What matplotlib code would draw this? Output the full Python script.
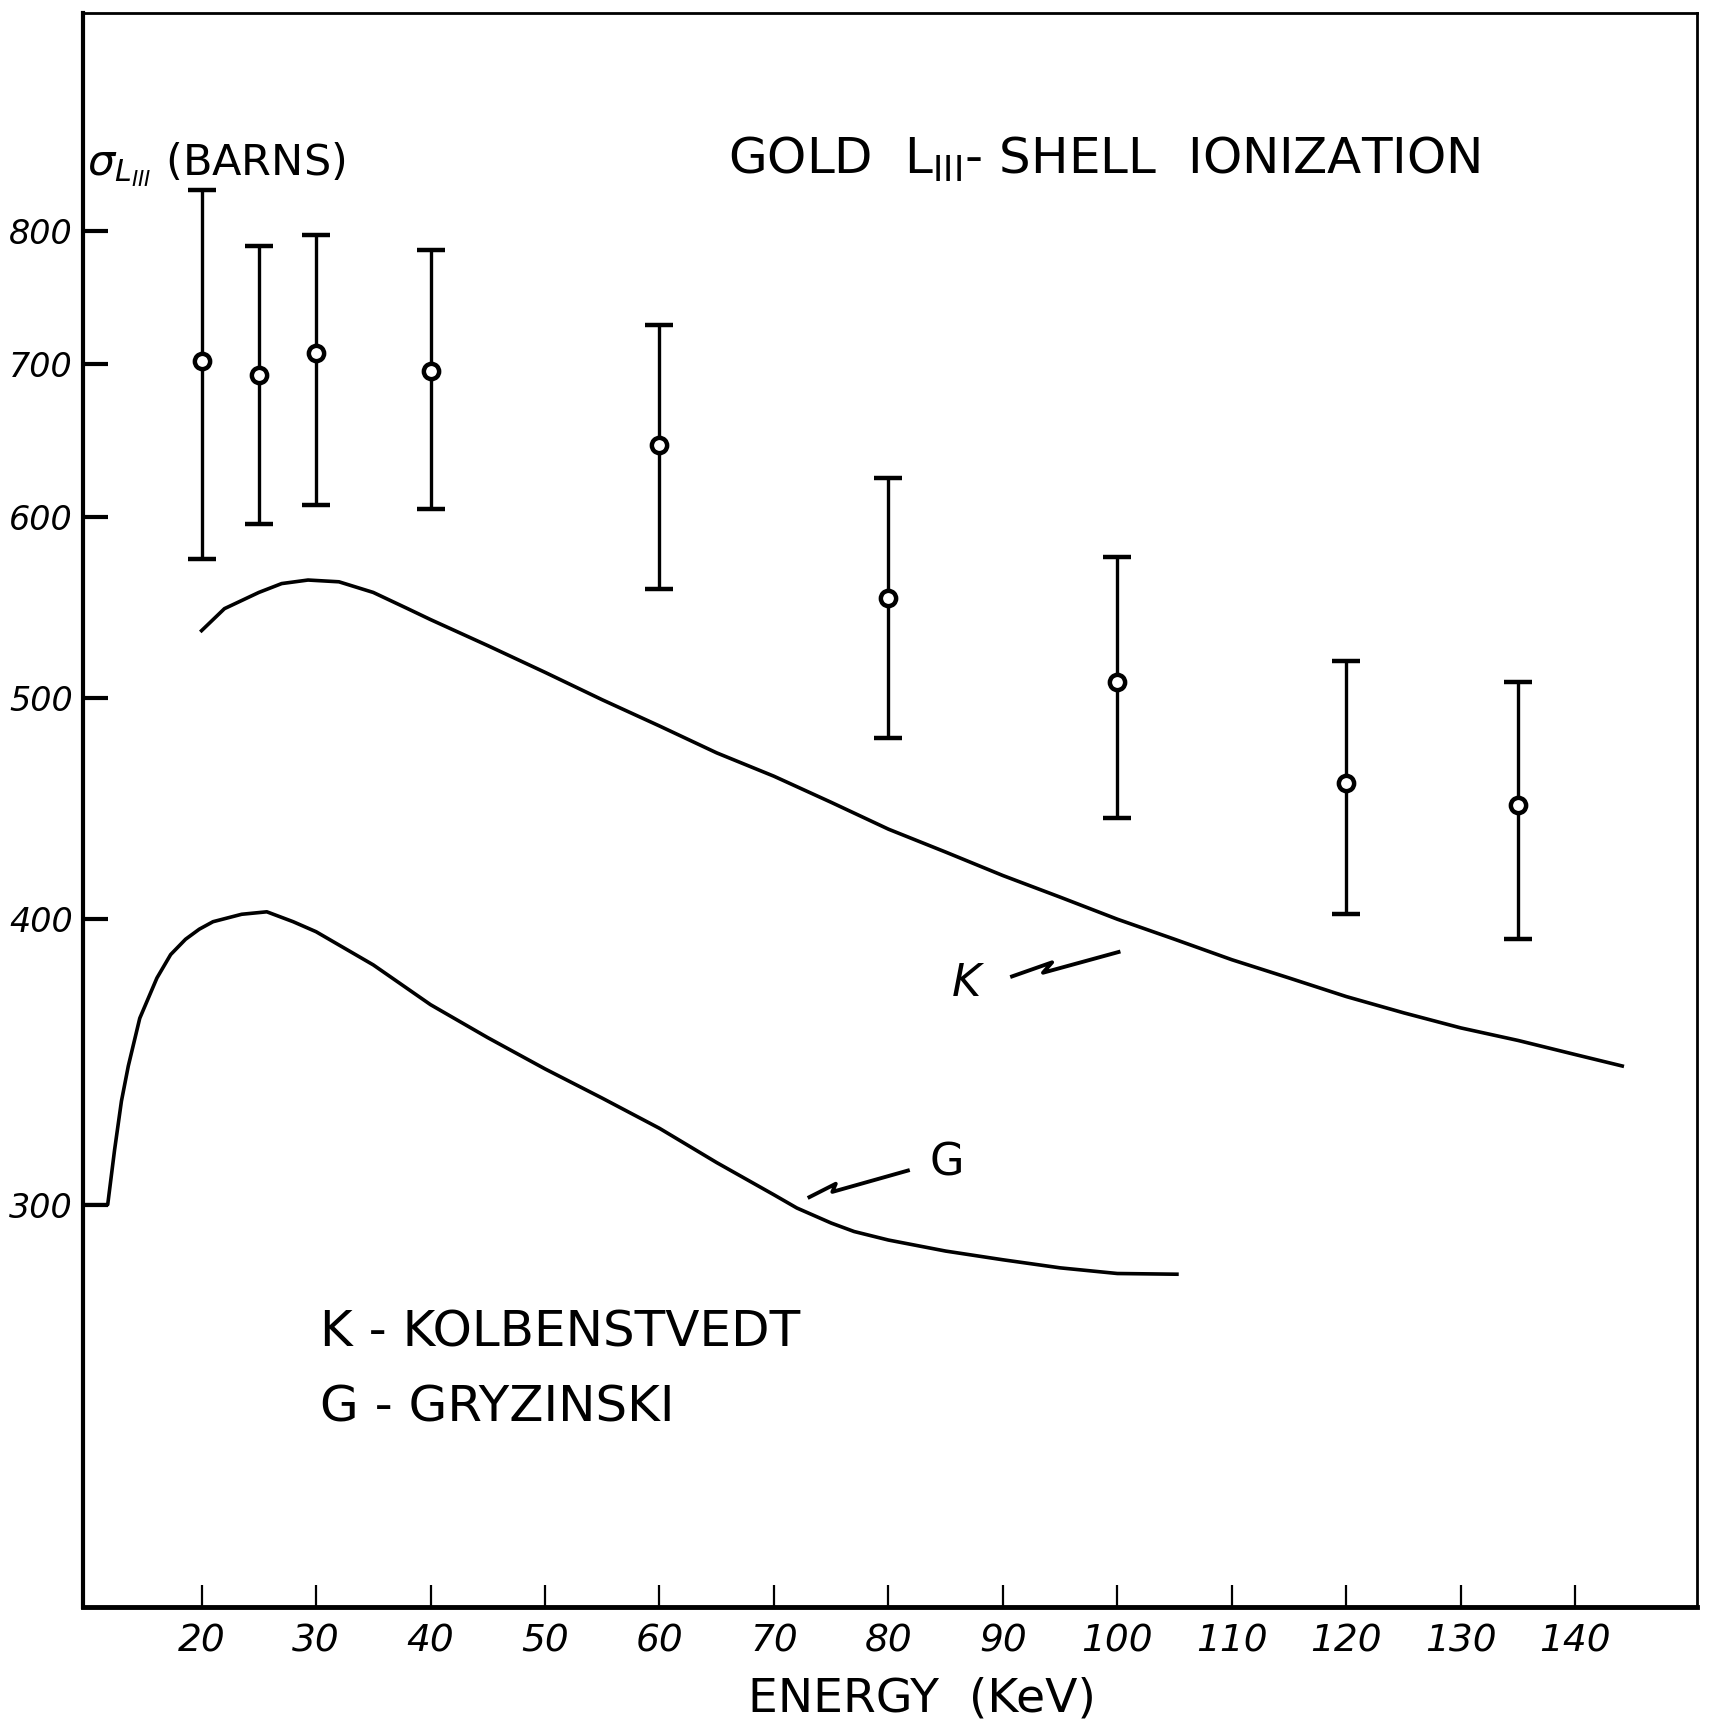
import numpy as np
import matplotlib
matplotlib.use("Agg")
import matplotlib.pyplot as plt

# measured points (keV, barns) with asymmetric error bars
energy = [20, 25, 30, 40, 60, 80, 100, 120, 135]
sigma = [702, 692, 708, 695, 645, 553, 508, 459, 449]
sigma_hi = [834, 788, 797, 785, 728, 624, 576, 519, 508]
sigma_lo = [575, 596, 607, 605, 558, 480, 443, 402, 392]

# Kolbenstvedt curve
k_energy = [20, 22, 25, 27, 29.3, 32, 35, 38, 40, 45, 50, 55, 60, 65, 70, 75, 80, 85, 90,
            95, 100, 105, 110, 115, 120, 125, 130, 135, 140, 144.1]
k_sigma = [535, 547, 556, 561, 563, 562, 556, 547, 541, 527, 513, 499, 486, 473, 462, 450,
           438, 428, 418, 409, 400, 392, 384, 377, 370, 364, 358.5, 354, 349, 345]

# Gryzinski curve
g_energy = [9.6, 11.8, 12.4, 13.0, 13.6, 14.6, 16.1, 17.3, 18.6, 19.8, 21.0, 23.5, 25.7,
            28, 30, 35, 40, 45, 50, 55, 60, 65, 70, 72, 75, 77, 80, 85, 90, 95, 100, 105.2]
g_sigma = [300, 300, 317, 333, 345, 362, 377, 386, 392, 396, 399, 402, 403,
           399, 395, 382, 367, 355, 344, 334, 324, 313, 303, 299, 294.5, 292, 289.5,
           286.3, 283.8, 281.5, 279.9, 279.7]

xticks = [20, 30, 40, 50, 60, 70, 80, 90, 100, 110, 120, 130, 140]
yticks = [300, 400, 500, 600, 700, 800]

fig = plt.figure(figsize=(17.19, 17.28), dpi=100)
ax = fig.add_axes([0.048, 0.070, 0.939, 0.9225])

ax.set_yscale("log")
ax.set_xlim(9.6, 150.6)
ax.set_ylim(200, 997)

err = [np.array(sigma) - np.array(sigma_lo), np.array(sigma_hi) - np.array(sigma)]
ax.errorbar(energy, sigma, yerr=err, fmt="o", color="black", ecolor="black",
            elinewidth=2.4, capsize=10, capthick=2.8, markersize=11,
            markerfacecolor="white", markeredgewidth=3.2, zorder=3)

ax.plot(k_energy, k_sigma, color="black", lw=2.6, solid_joinstyle="round")
ax.plot(g_energy, g_sigma, color="black", lw=2.6, solid_joinstyle="round")

# squiggly leader lines for curve labels
ax.plot([90.8, 94.3, 93.5, 100.1], [377.6, 383, 379, 387], color="black", lw=2.8)
ax.plot([73.1, 75.4, 75.1, 81.7], [302.3, 306.4, 303.9, 310.5], color="black", lw=2.8)
ax.text(86.8, 375, "K", fontsize=32, ha="center", va="center", style="italic")
ax.text(85.1, 312.9, "G", fontsize=32, ha="center", va="center")

ax.set_xticks(xticks)
ax.set_xticklabels([str(t) for t in xticks], fontsize=27, style="italic")
ax.set_yticks(yticks)
ax.set_yticklabels([str(t) for t in yticks], fontsize=24, style="italic")
ax.yaxis.set_minor_locator(matplotlib.ticker.NullLocator())
ax.tick_params(axis="x", direction="in", length=16, width=1.6, pad=12)
ax.tick_params(axis="y", direction="in", length=18, width=3, pad=7)

for side, w in [("left", 3), ("bottom", 3.5), ("top", 2), ("right", 2)]:
    ax.spines[side].set_linewidth(w)

ax.text(0.003, 0.905, r"$\sigma_{L_{III}}$ (BARNS)", transform=ax.transAxes,
        fontsize=31, ha="left", va="center")
ax.text(0.40, 0.908, r"GOLD  L$_{\mathrm{III}}$- SHELL  IONIZATION", transform=ax.transAxes,
        fontsize=36, ha="left", va="center")
ax.text(0.52, -0.058, "ENERGY  (KeV)", transform=ax.transAxes,
        fontsize=34, ha="center", va="center")
ax.text(0.147, 0.172, "K - KOLBENSTVEDT", transform=ax.transAxes,
        fontsize=36, ha="left", va="center")
ax.text(0.147, 0.125, "G - GRYZINSKI", transform=ax.transAxes,
        fontsize=36, ha="left", va="center")

fig.savefig("out.png", dpi=100, facecolor="white")
